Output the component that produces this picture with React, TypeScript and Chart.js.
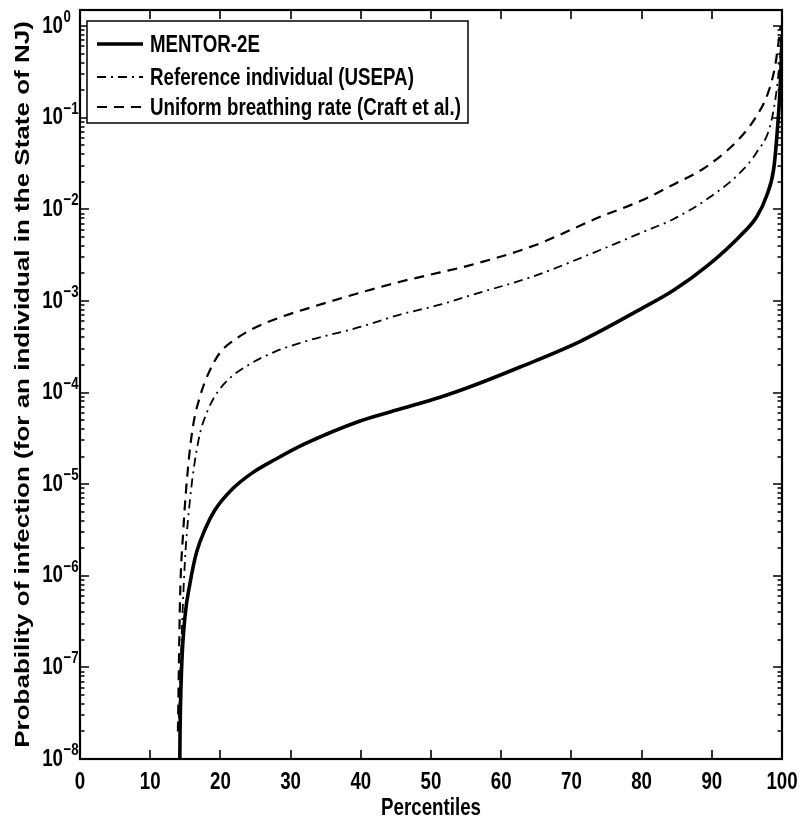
import React, { useEffect, useRef } from 'react';
import { Chart, registerables } from 'chart.js';

Chart.register(...registerables);

// ---- data ----
const seriesLabels = [
  'MENTOR-2E',
  'Reference individual (USEPA)',
  'Uniform breathing rate (Craft et al.)',
];

const mentorX = [14.22, 14.25, 14.48, 14.96, 15.67, 16.6, 17.8, 19.2, 21.6, 24.5, 27.8, 32.0, 39.9, 45.6, 51.3, 55.1, 62.7, 71.2, 79.8, 84.5, 89.3, 94, 96.4, 97.8, 98.8, 99.2, 99.7, 99.95, 100];
const mentorY = [1e-8, 1.9e-8, 1.0e-7, 3.6e-7, 8.3e-7, 1.8e-6, 3.2e-6, 5.2e-6, 8.7e-6, 1.32e-5, 1.86e-5, 2.75e-5, 4.9e-5, 6.6e-5, 8.9e-5, 1.12e-4, 1.9e-4, 3.6e-4, 8.1e-4, 1.3e-3, 2.4e-3, 5.1e-3, 8.3e-3, 1.4e-2, 2.7e-2, 5.4e-2, 0.19, 0.55, 0.8];

const usepaX = [14.1, 14.5, 14.96, 15.67, 16.4, 17.1, 18.05, 19.2, 21.1, 24.0, 27.8, 32.0, 39.9, 45.6, 51.3, 55.1, 64.6, 74.1, 79.8, 84.5, 89.3, 94, 96.4, 98.3, 99.2, 99.7, 100];
const usepaY = [2.8e-8, 2.4e-7, 1.5e-6, 6.8e-6, 1.86e-5, 3.6e-5, 6.0e-5, 9.1e-5, 1.38e-4, 2.0e-4, 2.8e-4, 3.6e-4, 5.2e-4, 7.1e-4, 9.1e-4, 1.12e-3, 1.86e-3, 3.6e-3, 5.5e-3, 7.8e-3, 1.29e-2, 2.5e-2, 4.2e-2, 8.1e-2, 0.19, 0.43, 0.78];

const craftX = [13.95, 14.25, 14.7, 15.4, 16.1, 17.1, 18.3, 19.9, 22.1, 24.9, 28.2, 32.0, 39.9, 45.6, 51.3, 55.1, 64.6, 74.1, 79.8, 84.5, 89.3, 94, 96.4, 98.0, 99.0, 99.5, 99.8];
const craftY = [2.0e-8, 5.5e-7, 3.0e-6, 1.55e-5, 4.3e-5, 9.1e-5, 1.62e-4, 2.7e-4, 3.8e-4, 5.1e-4, 6.5e-4, 8.1e-4, 1.23e-3, 1.62e-3, 2.05e-3, 2.4e-3, 4.0e-3, 8.3e-3, 1.23e-2, 1.86e-2, 2.95e-2, 6.0e-2, 0.105, 0.186, 0.36, 0.66, 1.0];

const xTicks = [0, 10, 20, 30, 40, 50, 60, 70, 80, 90, 100];
const yTickExponents = [-8, -7, -6, -5, -4, -3, -2, -1, 0];
const yTickBase = '10';

const xTitle = 'Percentiles';
const yTitle = 'Probability of infection (for an individual in the State of NJ)';

// ---- styling ----
const FONT = '"Liberation Sans", Arial, Helvetica, sans-serif';
const CONDENSE = 0.78; // the reference's lettering is horizontally condensed

const expText = (e: number) => (e < 0 ? '\u2212' + String(-e) : String(e));

const toPoints = (xs: number[], ys: number[]) => xs.map((x, i) => ({ x, y: ys[i] }));

// Draw every text of the chart horizontally condensed around its anchor point.
const condensePlugin = {
  id: 'condenseText',
  beforeInit(chart: any) {
    const ctx = chart.ctx;
    if (ctx.__condensed) return;
    const orig = ctx.fillText.bind(ctx);
    ctx.fillText = (text: string, x: number, y: number, maxWidth?: number) => {
      const m = ctx.getTransform();
      const px = m.a * x + m.c * y + m.e;
      const py = m.b * x + m.d * y + m.f;
      ctx.save();
      ctx.setTransform(1, 0, 0, 1, 0, 0);
      ctx.translate(px, py);
      ctx.scale(CONDENSE, 1);
      ctx.translate(-px, -py);
      ctx.transform(m.a, m.b, m.c, m.d, m.e, m.f);
      if (maxWidth === undefined || maxWidth === null) orig(text, x, y);
      else orig(text, x, y, maxWidth / CONDENSE);
      ctx.restore();
    };
    ctx.__condensed = true;
  },
};

const framePlugin = {
  id: 'matlabFrame',
  afterDatasetsDraw(chart: any) {
    const { ctx, chartArea: a, scales } = chart;
    const xs = scales.x;
    const ys = scales.y;
    ctx.save();
    ctx.strokeStyle = '#000';
    ctx.lineWidth = 1.6;
    ctx.beginPath();
    xTicks.forEach((v) => {
      const px = Math.round(xs.getPixelForValue(v));
      ctx.moveTo(px, a.bottom);
      ctx.lineTo(px, a.bottom - 9);
      ctx.moveTo(px, a.top);
      ctx.lineTo(px, a.top + 9);
    });
    yTickExponents.forEach((e) => {
      for (let m = 1; m <= 9; m++) {
        const v = m * Math.pow(10, e);
        if (v < ys.min * 0.999 || v > ys.max) continue;
        const py = Math.round(ys.getPixelForValue(v));
        const len = m === 1 ? 9 : 4.5;
        ctx.moveTo(a.left, py);
        ctx.lineTo(a.left + len, py);
        ctx.moveTo(a.right, py);
        ctx.lineTo(a.right - len, py);
      }
    });
    ctx.stroke();
    ctx.lineWidth = 2.2;
    ctx.strokeRect(a.left, a.top, a.right - a.left, a.bottom - a.top);

    // exponents of the y tick labels (10^e), as superscripts
    ctx.fillStyle = '#000';
    ctx.font = `bold 17px ${FONT}`;
    ctx.textAlign = 'left';
    ctx.textBaseline = 'alphabetic';
    yTickExponents.forEach((e) => {
      const py = ys.getPixelForValue(Math.pow(10, e));
      ctx.fillText(expText(e), a.left - 16.5, py - 4);
    });
    ctx.restore();
  },
  afterDraw(chart: any) {
    const { ctx, chartArea: a } = chart;
    const bx = a.left + 7;
    const by = a.top + 11;
    const bw = 381;
    const bh = 102;
    ctx.save();
    ctx.fillStyle = '#fff';
    ctx.fillRect(bx, by, bw, bh);
    ctx.strokeStyle = '#000';
    ctx.lineWidth = 1.5;
    ctx.strokeRect(bx, by, bw, bh);
    const rows = [by + 23, by + 56, by + 86];
    chart.data.datasets.forEach((ds: any, i: number) => {
      const ry = rows[i];
      ctx.beginPath();
      ctx.setLineDash(ds.borderDash || []);
      ctx.lineWidth = ds.borderWidth;
      ctx.strokeStyle = '#000';
      ctx.moveTo(bx + 10, ry);
      ctx.lineTo(bx + 56, ry);
      ctx.stroke();
      ctx.setLineDash([]);
      ctx.fillStyle = '#000';
      ctx.font = `bold 24px ${FONT}`;
      ctx.textBaseline = 'middle';
      ctx.textAlign = 'left';
      ctx.fillText(ds.label, bx + 63, ry + 1);
    });
    ctx.restore();
  },
};

export default function App() {
  const ref = useRef<HTMLCanvasElement>(null);

  useEffect(() => {
    if (!ref.current) return;
    Chart.defaults.color = '#000';
    const chart = new Chart(ref.current, {
      type: 'line',
      data: {
        datasets: [
          {
            label: seriesLabels[0],
            data: toPoints(mentorX, mentorY),
            borderColor: '#000',
            borderWidth: 3.6,
            borderDash: [],
            pointRadius: 0,
            cubicInterpolationMode: 'monotone',
            fill: false,
          },
          {
            label: seriesLabels[1],
            data: toPoints(usepaX, usepaY),
            borderColor: '#000',
            borderWidth: 1.8,
            borderDash: [9, 5, 2, 5],
            pointRadius: 0,
            cubicInterpolationMode: 'monotone',
            fill: false,
          },
          {
            label: seriesLabels[2],
            data: toPoints(craftX, craftY),
            borderColor: '#000',
            borderWidth: 2.2,
            borderDash: [10, 7],
            pointRadius: 0,
            cubicInterpolationMode: 'monotone',
            fill: false,
          },
        ],
      },
      options: {
        responsive: false,
        animation: false,
        devicePixelRatio: 1,
        layout: { autoPadding: false, padding: { top: 10, right: 18, left: 0, bottom: 0 } },
        plugins: { legend: { display: false }, tooltip: { enabled: false } },
        scales: {
          x: {
            type: 'linear',
            min: 0,
            max: 100,
            grid: { display: false, drawTicks: false },
            border: { display: false },
            afterBuildTicks: (s: any) => {
              s.ticks = xTicks.map((v) => ({ value: v }));
            },
            afterFit: (s: any) => {
              s.height = 67;
              s.paddingLeft = 0;
              s.paddingRight = 0;
            },
            ticks: {
              padding: 9,
              maxRotation: 0,
              autoSkip: false,
              color: '#000',
              font: { family: FONT, size: 24, weight: 'bold' },
              callback: (v: any) => String(v),
            },
            title: {
              display: true,
              text: xTitle,
              color: '#000',
              padding: { top: 0, bottom: 3 },
              font: { family: FONT, size: 24, weight: 'bold' },
            },
          },
          y: {
            type: 'logarithmic',
            min: 1e-8,
            max: 1.5,
            grid: { display: false, drawTicks: false },
            border: { display: false },
            afterBuildTicks: (s: any) => {
              s.ticks = yTickExponents.map((e) => ({ value: Math.pow(10, e) }));
            },
            afterFit: (s: any) => {
              s.width = 80;
              s.paddingTop = 0;
              s.paddingBottom = 0;
            },
            ticks: {
              padding: 17,
              autoSkip: false,
              color: '#000',
              font: { family: FONT, size: 24, weight: 'bold' },
              callback: () => yTickBase,
            },
            title: {
              display: true,
              text: yTitle,
              color: '#000',
              padding: { top: 8, bottom: 0 },
              font: { family: FONT, size: 26, weight: 'bold' },
            },
          },
        },
      } as any,
      plugins: [condensePlugin, framePlugin],
    });
    return () => chart.destroy();
  }, []);

  return (
    <div style={{ position: 'absolute', left: 0, top: 0, width: 800, height: 826, background: '#fff' }}>
      <canvas ref={ref} width={800} height={826} style={{ display: 'block', width: 800, height: 826 }} />
    </div>
  );
}
